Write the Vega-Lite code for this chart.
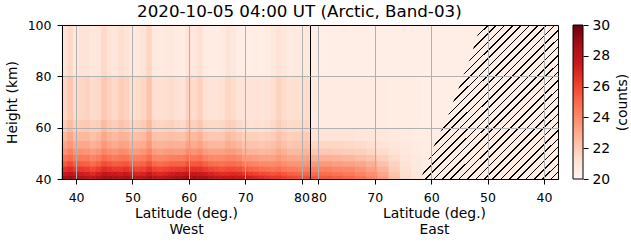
{
"$schema":"https://vega.github.io/schema/vega-lite/v6.json",
"background":"white",
"padding":{"left":5,"top":4,"right":0,"bottom":0},
"title":{"text":"2020-10-05 04:00 UT (Arctic, Band-03)","font":"DejaVu Sans","fontSize":16.7,"fontWeight":"normal","color":"black","anchor":"middle","offset":-3,"dx":-18},
"datasets":{
"west":[
{"lat":37.5,"lat2":38.5,"h":40,"h2":41.5,"v":28.6},{"lat":37.5,"lat2":38.5,"h":41.5,"h2":43,"v":27.6},{"lat":37.5,"lat2":38.5,"h":43,"h2":45,"v":26.6},{"lat":37.5,"lat2":38.5,"h":45,"h2":47,"v":25.5},{"lat":37.5,"lat2":38.5,"h":47,"h2":49.5,"v":24.7},{"lat":37.5,"lat2":38.5,"h":49.5,"h2":52,"v":23.8},{"lat":37.5,"lat2":38.5,"h":52,"h2":55,"v":23.2},{"lat":37.5,"lat2":38.5,"h":55,"h2":58.5,"v":22.6},{"lat":37.5,"lat2":38.5,"h":58.5,"h2":63,"v":22.0},{"lat":37.5,"lat2":38.5,"h":63,"h2":80,"v":21.6},{"lat":37.5,"lat2":38.5,"h":80,"h2":100,"v":21.0},
{"lat":38.5,"lat2":39.5,"h":40,"h2":41.5,"v":28.8},{"lat":38.5,"lat2":39.5,"h":41.5,"h2":43,"v":27.9},{"lat":38.5,"lat2":39.5,"h":43,"h2":45,"v":26.9},{"lat":38.5,"lat2":39.5,"h":45,"h2":47,"v":25.9},{"lat":38.5,"lat2":39.5,"h":47,"h2":49.5,"v":25.0},{"lat":38.5,"lat2":39.5,"h":49.5,"h2":52,"v":24.3},{"lat":38.5,"lat2":39.5,"h":52,"h2":55,"v":23.6},{"lat":38.5,"lat2":39.5,"h":55,"h2":58.5,"v":23.1},{"lat":38.5,"lat2":39.5,"h":58.5,"h2":63,"v":22.5},{"lat":38.5,"lat2":39.5,"h":63,"h2":80,"v":22.1},{"lat":38.5,"lat2":39.5,"h":80,"h2":100,"v":21.5},
{"lat":39.5,"lat2":40.5,"h":40,"h2":41.5,"v":28.5},{"lat":39.5,"lat2":40.5,"h":41.5,"h2":43,"v":27.5},{"lat":39.5,"lat2":40.5,"h":43,"h2":45,"v":26.4},{"lat":39.5,"lat2":40.5,"h":45,"h2":47,"v":25.4},{"lat":39.5,"lat2":40.5,"h":47,"h2":49.5,"v":24.5},{"lat":39.5,"lat2":40.5,"h":49.5,"h2":52,"v":23.7},{"lat":39.5,"lat2":40.5,"h":52,"h2":55,"v":23.0},{"lat":39.5,"lat2":40.5,"h":55,"h2":58.5,"v":22.4},{"lat":39.5,"lat2":40.5,"h":58.5,"h2":63,"v":21.8},{"lat":39.5,"lat2":40.5,"h":63,"h2":80,"v":21.4},{"lat":39.5,"lat2":40.5,"h":80,"h2":100,"v":20.8},
{"lat":40.5,"lat2":41.5,"h":40,"h2":41.5,"v":28.3},{"lat":40.5,"lat2":41.5,"h":41.5,"h2":43,"v":27.4},{"lat":40.5,"lat2":41.5,"h":43,"h2":45,"v":26.4},{"lat":40.5,"lat2":41.5,"h":45,"h2":47,"v":25.4},{"lat":40.5,"lat2":41.5,"h":47,"h2":49.5,"v":24.5},{"lat":40.5,"lat2":41.5,"h":49.5,"h2":52,"v":23.8},{"lat":40.5,"lat2":41.5,"h":52,"h2":55,"v":23.1},{"lat":40.5,"lat2":41.5,"h":55,"h2":58.5,"v":22.6},{"lat":40.5,"lat2":41.5,"h":58.5,"h2":63,"v":22.0},{"lat":40.5,"lat2":41.5,"h":63,"h2":80,"v":21.6},{"lat":40.5,"lat2":41.5,"h":80,"h2":100,"v":21.0},
{"lat":41.5,"lat2":42.5,"h":40,"h2":41.5,"v":28.0},{"lat":41.5,"lat2":42.5,"h":41.5,"h2":43,"v":27.2},{"lat":41.5,"lat2":42.5,"h":43,"h2":45,"v":26.2},{"lat":41.5,"lat2":42.5,"h":45,"h2":47,"v":25.3},{"lat":41.5,"lat2":42.5,"h":47,"h2":49.5,"v":24.5},{"lat":41.5,"lat2":42.5,"h":49.5,"h2":52,"v":23.7},{"lat":41.5,"lat2":42.5,"h":52,"h2":55,"v":23.1},{"lat":41.5,"lat2":42.5,"h":55,"h2":58.5,"v":22.6},{"lat":41.5,"lat2":42.5,"h":58.5,"h2":63,"v":22.1},{"lat":41.5,"lat2":42.5,"h":63,"h2":80,"v":21.7},{"lat":41.5,"lat2":42.5,"h":80,"h2":100,"v":21.1},
{"lat":42.5,"lat2":43.5,"h":40,"h2":41.5,"v":27.8},{"lat":42.5,"lat2":43.5,"h":41.5,"h2":43,"v":26.9},{"lat":42.5,"lat2":43.5,"h":43,"h2":45,"v":25.9},{"lat":42.5,"lat2":43.5,"h":45,"h2":47,"v":25.0},{"lat":42.5,"lat2":43.5,"h":47,"h2":49.5,"v":24.2},{"lat":42.5,"lat2":43.5,"h":49.5,"h2":52,"v":23.5},{"lat":42.5,"lat2":43.5,"h":52,"h2":55,"v":22.8},{"lat":42.5,"lat2":43.5,"h":55,"h2":58.5,"v":22.3},{"lat":42.5,"lat2":43.5,"h":58.5,"h2":63,"v":21.8},{"lat":42.5,"lat2":43.5,"h":63,"h2":80,"v":21.4},{"lat":42.5,"lat2":43.5,"h":80,"h2":100,"v":20.8},
{"lat":43.5,"lat2":44.5,"h":40,"h2":41.5,"v":28.2},{"lat":43.5,"lat2":44.5,"h":41.5,"h2":43,"v":27.3},{"lat":43.5,"lat2":44.5,"h":43,"h2":45,"v":26.3},{"lat":43.5,"lat2":44.5,"h":45,"h2":47,"v":25.3},{"lat":43.5,"lat2":44.5,"h":47,"h2":49.5,"v":24.4},{"lat":43.5,"lat2":44.5,"h":49.5,"h2":52,"v":23.7},{"lat":43.5,"lat2":44.5,"h":52,"h2":55,"v":23.0},{"lat":43.5,"lat2":44.5,"h":55,"h2":58.5,"v":22.5},{"lat":43.5,"lat2":44.5,"h":58.5,"h2":63,"v":21.9},{"lat":43.5,"lat2":44.5,"h":63,"h2":80,"v":21.5},{"lat":43.5,"lat2":44.5,"h":80,"h2":100,"v":20.9},
{"lat":44.5,"lat2":45.5,"h":40,"h2":41.5,"v":28.7},{"lat":44.5,"lat2":45.5,"h":41.5,"h2":43,"v":27.8},{"lat":44.5,"lat2":45.5,"h":43,"h2":45,"v":26.8},{"lat":44.5,"lat2":45.5,"h":45,"h2":47,"v":25.8},{"lat":44.5,"lat2":45.5,"h":47,"h2":49.5,"v":25.0},{"lat":44.5,"lat2":45.5,"h":49.5,"h2":52,"v":24.2},{"lat":44.5,"lat2":45.5,"h":52,"h2":55,"v":23.6},{"lat":44.5,"lat2":45.5,"h":55,"h2":58.5,"v":23.1},{"lat":44.5,"lat2":45.5,"h":58.5,"h2":63,"v":22.5},{"lat":44.5,"lat2":45.5,"h":63,"h2":80,"v":22.1},{"lat":44.5,"lat2":45.5,"h":80,"h2":100,"v":21.5},
{"lat":45.5,"lat2":46.5,"h":40,"h2":41.5,"v":28.6},{"lat":45.5,"lat2":46.5,"h":41.5,"h2":43,"v":27.7},{"lat":45.5,"lat2":46.5,"h":43,"h2":45,"v":26.6},{"lat":45.5,"lat2":46.5,"h":45,"h2":47,"v":25.6},{"lat":45.5,"lat2":46.5,"h":47,"h2":49.5,"v":24.7},{"lat":45.5,"lat2":46.5,"h":49.5,"h2":52,"v":23.9},{"lat":45.5,"lat2":46.5,"h":52,"h2":55,"v":23.2},{"lat":45.5,"lat2":46.5,"h":55,"h2":58.5,"v":22.7},{"lat":45.5,"lat2":46.5,"h":58.5,"h2":63,"v":22.1},{"lat":45.5,"lat2":46.5,"h":63,"h2":80,"v":21.7},{"lat":45.5,"lat2":46.5,"h":80,"h2":100,"v":21.1},
{"lat":46.5,"lat2":47.5,"h":40,"h2":41.5,"v":28.4},{"lat":46.5,"lat2":47.5,"h":41.5,"h2":43,"v":27.5},{"lat":46.5,"lat2":47.5,"h":43,"h2":45,"v":26.4},{"lat":46.5,"lat2":47.5,"h":45,"h2":47,"v":25.4},{"lat":46.5,"lat2":47.5,"h":47,"h2":49.5,"v":24.5},{"lat":46.5,"lat2":47.5,"h":49.5,"h2":52,"v":23.7},{"lat":46.5,"lat2":47.5,"h":52,"h2":55,"v":23.0},{"lat":46.5,"lat2":47.5,"h":55,"h2":58.5,"v":22.5},{"lat":46.5,"lat2":47.5,"h":58.5,"h2":63,"v":21.9},{"lat":46.5,"lat2":47.5,"h":63,"h2":80,"v":21.5},{"lat":46.5,"lat2":47.5,"h":80,"h2":100,"v":20.9},
{"lat":47.5,"lat2":48.5,"h":40,"h2":41.5,"v":28.3},{"lat":47.5,"lat2":48.5,"h":41.5,"h2":43,"v":27.4},{"lat":47.5,"lat2":48.5,"h":43,"h2":45,"v":26.4},{"lat":47.5,"lat2":48.5,"h":45,"h2":47,"v":25.5},{"lat":47.5,"lat2":48.5,"h":47,"h2":49.5,"v":24.7},{"lat":47.5,"lat2":48.5,"h":49.5,"h2":52,"v":24.0},{"lat":47.5,"lat2":48.5,"h":52,"h2":55,"v":23.3},{"lat":47.5,"lat2":48.5,"h":55,"h2":58.5,"v":22.8},{"lat":47.5,"lat2":48.5,"h":58.5,"h2":63,"v":22.3},{"lat":47.5,"lat2":48.5,"h":63,"h2":80,"v":21.9},{"lat":47.5,"lat2":48.5,"h":80,"h2":100,"v":21.3},
{"lat":48.5,"lat2":49.5,"h":40,"h2":41.5,"v":28.6},{"lat":48.5,"lat2":49.5,"h":41.5,"h2":43,"v":27.7},{"lat":48.5,"lat2":49.5,"h":43,"h2":45,"v":26.6},{"lat":48.5,"lat2":49.5,"h":45,"h2":47,"v":25.6},{"lat":48.5,"lat2":49.5,"h":47,"h2":49.5,"v":24.7},{"lat":48.5,"lat2":49.5,"h":49.5,"h2":52,"v":23.9},{"lat":48.5,"lat2":49.5,"h":52,"h2":55,"v":23.2},{"lat":48.5,"lat2":49.5,"h":55,"h2":58.5,"v":22.7},{"lat":48.5,"lat2":49.5,"h":58.5,"h2":63,"v":22.1},{"lat":48.5,"lat2":49.5,"h":63,"h2":80,"v":21.7},{"lat":48.5,"lat2":49.5,"h":80,"h2":100,"v":21.1},
{"lat":49.5,"lat2":50.5,"h":40,"h2":41.5,"v":28.2},{"lat":49.5,"lat2":50.5,"h":41.5,"h2":43,"v":27.3},{"lat":49.5,"lat2":50.5,"h":43,"h2":45,"v":26.2},{"lat":49.5,"lat2":50.5,"h":45,"h2":47,"v":25.2},{"lat":49.5,"lat2":50.5,"h":47,"h2":49.5,"v":24.3},{"lat":49.5,"lat2":50.5,"h":49.5,"h2":52,"v":23.5},{"lat":49.5,"lat2":50.5,"h":52,"h2":55,"v":22.8},{"lat":49.5,"lat2":50.5,"h":55,"h2":58.5,"v":22.3},{"lat":49.5,"lat2":50.5,"h":58.5,"h2":63,"v":21.7},{"lat":49.5,"lat2":50.5,"h":63,"h2":80,"v":21.3},{"lat":49.5,"lat2":50.5,"h":80,"h2":100,"v":20.7},
{"lat":50.5,"lat2":51.5,"h":40,"h2":41.5,"v":27.9},{"lat":50.5,"lat2":51.5,"h":41.5,"h2":43,"v":27.0},{"lat":50.5,"lat2":51.5,"h":43,"h2":45,"v":26.0},{"lat":50.5,"lat2":51.5,"h":45,"h2":47,"v":25.1},{"lat":50.5,"lat2":51.5,"h":47,"h2":49.5,"v":24.3},{"lat":50.5,"lat2":51.5,"h":49.5,"h2":52,"v":23.5},{"lat":50.5,"lat2":51.5,"h":52,"h2":55,"v":22.9},{"lat":50.5,"lat2":51.5,"h":55,"h2":58.5,"v":22.4},{"lat":50.5,"lat2":51.5,"h":58.5,"h2":63,"v":21.8},{"lat":50.5,"lat2":51.5,"h":63,"h2":80,"v":21.4},{"lat":50.5,"lat2":51.5,"h":80,"h2":100,"v":20.8},
{"lat":51.5,"lat2":52.5,"h":40,"h2":41.5,"v":28.0},{"lat":51.5,"lat2":52.5,"h":41.5,"h2":43,"v":27.1},{"lat":51.5,"lat2":52.5,"h":43,"h2":45,"v":26.1},{"lat":51.5,"lat2":52.5,"h":45,"h2":47,"v":25.2},{"lat":51.5,"lat2":52.5,"h":47,"h2":49.5,"v":24.4},{"lat":51.5,"lat2":52.5,"h":49.5,"h2":52,"v":23.7},{"lat":51.5,"lat2":52.5,"h":52,"h2":55,"v":23.0},{"lat":51.5,"lat2":52.5,"h":55,"h2":58.5,"v":22.5},{"lat":51.5,"lat2":52.5,"h":58.5,"h2":63,"v":22.0},{"lat":51.5,"lat2":52.5,"h":63,"h2":80,"v":21.6},{"lat":51.5,"lat2":52.5,"h":80,"h2":100,"v":21.0},
{"lat":52.5,"lat2":53.5,"h":40,"h2":41.5,"v":28.4},{"lat":52.5,"lat2":53.5,"h":41.5,"h2":43,"v":27.6},{"lat":52.5,"lat2":53.5,"h":43,"h2":45,"v":26.6},{"lat":52.5,"lat2":53.5,"h":45,"h2":47,"v":25.7},{"lat":52.5,"lat2":53.5,"h":47,"h2":49.5,"v":24.9},{"lat":52.5,"lat2":53.5,"h":49.5,"h2":52,"v":24.2},{"lat":52.5,"lat2":53.5,"h":52,"h2":55,"v":23.6},{"lat":52.5,"lat2":53.5,"h":55,"h2":58.5,"v":23.1},{"lat":52.5,"lat2":53.5,"h":58.5,"h2":63,"v":22.6},{"lat":52.5,"lat2":53.5,"h":63,"h2":80,"v":22.2},{"lat":52.5,"lat2":53.5,"h":80,"h2":100,"v":21.6},
{"lat":53.5,"lat2":54.5,"h":40,"h2":41.5,"v":28.0},{"lat":53.5,"lat2":54.5,"h":41.5,"h2":43,"v":27.1},{"lat":53.5,"lat2":54.5,"h":43,"h2":45,"v":26.1},{"lat":53.5,"lat2":54.5,"h":45,"h2":47,"v":25.1},{"lat":53.5,"lat2":54.5,"h":47,"h2":49.5,"v":24.2},{"lat":53.5,"lat2":54.5,"h":49.5,"h2":52,"v":23.5},{"lat":53.5,"lat2":54.5,"h":52,"h2":55,"v":22.8},{"lat":53.5,"lat2":54.5,"h":55,"h2":58.5,"v":22.3},{"lat":53.5,"lat2":54.5,"h":58.5,"h2":63,"v":21.7},{"lat":53.5,"lat2":54.5,"h":63,"h2":80,"v":21.3},{"lat":53.5,"lat2":54.5,"h":80,"h2":100,"v":20.7},
{"lat":54.5,"lat2":55.5,"h":40,"h2":41.5,"v":27.8},{"lat":54.5,"lat2":55.5,"h":41.5,"h2":43,"v":26.9},{"lat":54.5,"lat2":55.5,"h":43,"h2":45,"v":25.9},{"lat":54.5,"lat2":55.5,"h":45,"h2":47,"v":24.9},{"lat":54.5,"lat2":55.5,"h":47,"h2":49.5,"v":24.1},{"lat":54.5,"lat2":55.5,"h":49.5,"h2":52,"v":23.3},{"lat":54.5,"lat2":55.5,"h":52,"h2":55,"v":22.7},{"lat":54.5,"lat2":55.5,"h":55,"h2":58.5,"v":22.2},{"lat":54.5,"lat2":55.5,"h":58.5,"h2":63,"v":21.6},{"lat":54.5,"lat2":55.5,"h":63,"h2":80,"v":21.2},{"lat":54.5,"lat2":55.5,"h":80,"h2":100,"v":20.6},
{"lat":55.5,"lat2":56.5,"h":40,"h2":41.5,"v":28.0},{"lat":55.5,"lat2":56.5,"h":41.5,"h2":43,"v":27.1},{"lat":55.5,"lat2":56.5,"h":43,"h2":45,"v":26.1},{"lat":55.5,"lat2":56.5,"h":45,"h2":47,"v":25.1},{"lat":55.5,"lat2":56.5,"h":47,"h2":49.5,"v":24.2},{"lat":55.5,"lat2":56.5,"h":49.5,"h2":52,"v":23.5},{"lat":55.5,"lat2":56.5,"h":52,"h2":55,"v":22.8},{"lat":55.5,"lat2":56.5,"h":55,"h2":58.5,"v":22.3},{"lat":55.5,"lat2":56.5,"h":58.5,"h2":63,"v":21.7},{"lat":55.5,"lat2":56.5,"h":63,"h2":80,"v":21.3},{"lat":55.5,"lat2":56.5,"h":80,"h2":100,"v":20.7},
{"lat":56.5,"lat2":57.5,"h":40,"h2":41.5,"v":28.3},{"lat":56.5,"lat2":57.5,"h":41.5,"h2":43,"v":27.4},{"lat":56.5,"lat2":57.5,"h":43,"h2":45,"v":26.3},{"lat":56.5,"lat2":57.5,"h":45,"h2":47,"v":25.3},{"lat":56.5,"lat2":57.5,"h":47,"h2":49.5,"v":24.4},{"lat":56.5,"lat2":57.5,"h":49.5,"h2":52,"v":23.6},{"lat":56.5,"lat2":57.5,"h":52,"h2":55,"v":22.9},{"lat":56.5,"lat2":57.5,"h":55,"h2":58.5,"v":22.4},{"lat":56.5,"lat2":57.5,"h":58.5,"h2":63,"v":21.8},{"lat":56.5,"lat2":57.5,"h":63,"h2":80,"v":21.4},{"lat":56.5,"lat2":57.5,"h":80,"h2":100,"v":20.8},
{"lat":57.5,"lat2":58.5,"h":40,"h2":41.5,"v":28.5},{"lat":57.5,"lat2":58.5,"h":41.5,"h2":43,"v":27.5},{"lat":57.5,"lat2":58.5,"h":43,"h2":45,"v":26.4},{"lat":57.5,"lat2":58.5,"h":45,"h2":47,"v":25.3},{"lat":57.5,"lat2":58.5,"h":47,"h2":49.5,"v":24.4},{"lat":57.5,"lat2":58.5,"h":49.5,"h2":52,"v":23.5},{"lat":57.5,"lat2":58.5,"h":52,"h2":55,"v":22.8},{"lat":57.5,"lat2":58.5,"h":55,"h2":58.5,"v":22.3},{"lat":57.5,"lat2":58.5,"h":58.5,"h2":63,"v":21.6},{"lat":57.5,"lat2":58.5,"h":63,"h2":80,"v":21.2},{"lat":57.5,"lat2":58.5,"h":80,"h2":100,"v":20.6},
{"lat":58.5,"lat2":59.5,"h":40,"h2":41.5,"v":28.6},{"lat":58.5,"lat2":59.5,"h":41.5,"h2":43,"v":27.6},{"lat":58.5,"lat2":59.5,"h":43,"h2":45,"v":26.4},{"lat":58.5,"lat2":59.5,"h":45,"h2":47,"v":25.3},{"lat":58.5,"lat2":59.5,"h":47,"h2":49.5,"v":24.4},{"lat":58.5,"lat2":59.5,"h":49.5,"h2":52,"v":23.5},{"lat":58.5,"lat2":59.5,"h":52,"h2":55,"v":22.8},{"lat":58.5,"lat2":59.5,"h":55,"h2":58.5,"v":22.2},{"lat":58.5,"lat2":59.5,"h":58.5,"h2":63,"v":21.5},{"lat":58.5,"lat2":59.5,"h":63,"h2":80,"v":21.1},{"lat":58.5,"lat2":59.5,"h":80,"h2":100,"v":20.5},
{"lat":59.5,"lat2":60.5,"h":40,"h2":41.5,"v":28.8},{"lat":59.5,"lat2":60.5,"h":41.5,"h2":43,"v":27.8},{"lat":59.5,"lat2":60.5,"h":43,"h2":45,"v":26.7},{"lat":59.5,"lat2":60.5,"h":45,"h2":47,"v":25.7},{"lat":59.5,"lat2":60.5,"h":47,"h2":49.5,"v":24.8},{"lat":59.5,"lat2":60.5,"h":49.5,"h2":52,"v":24.0},{"lat":59.5,"lat2":60.5,"h":52,"h2":55,"v":23.3},{"lat":59.5,"lat2":60.5,"h":55,"h2":58.5,"v":22.7},{"lat":59.5,"lat2":60.5,"h":58.5,"h2":63,"v":22.1},{"lat":59.5,"lat2":60.5,"h":63,"h2":80,"v":21.7},{"lat":59.5,"lat2":60.5,"h":80,"h2":100,"v":21.1},
{"lat":60.5,"lat2":61.5,"h":40,"h2":41.5,"v":28.7},{"lat":60.5,"lat2":61.5,"h":41.5,"h2":43,"v":27.7},{"lat":60.5,"lat2":61.5,"h":43,"h2":45,"v":26.6},{"lat":60.5,"lat2":61.5,"h":45,"h2":47,"v":25.5},{"lat":60.5,"lat2":61.5,"h":47,"h2":49.5,"v":24.6},{"lat":60.5,"lat2":61.5,"h":49.5,"h2":52,"v":23.7},{"lat":60.5,"lat2":61.5,"h":52,"h2":55,"v":23.0},{"lat":60.5,"lat2":61.5,"h":55,"h2":58.5,"v":22.5},{"lat":60.5,"lat2":61.5,"h":58.5,"h2":63,"v":21.8},{"lat":60.5,"lat2":61.5,"h":63,"h2":80,"v":21.4},{"lat":60.5,"lat2":61.5,"h":80,"h2":100,"v":20.8},
{"lat":61.5,"lat2":62.5,"h":40,"h2":41.5,"v":28.6},{"lat":61.5,"lat2":62.5,"h":41.5,"h2":43,"v":27.7},{"lat":61.5,"lat2":62.5,"h":43,"h2":45,"v":26.6},{"lat":61.5,"lat2":62.5,"h":45,"h2":47,"v":25.6},{"lat":61.5,"lat2":62.5,"h":47,"h2":49.5,"v":24.8},{"lat":61.5,"lat2":62.5,"h":49.5,"h2":52,"v":24.0},{"lat":61.5,"lat2":62.5,"h":52,"h2":55,"v":23.3},{"lat":61.5,"lat2":62.5,"h":55,"h2":58.5,"v":22.8},{"lat":61.5,"lat2":62.5,"h":58.5,"h2":63,"v":22.2},{"lat":61.5,"lat2":62.5,"h":63,"h2":80,"v":21.8},{"lat":61.5,"lat2":62.5,"h":80,"h2":100,"v":21.2},
{"lat":62.5,"lat2":63.5,"h":40,"h2":41.5,"v":28.4},{"lat":62.5,"lat2":63.5,"h":41.5,"h2":43,"v":27.4},{"lat":62.5,"lat2":63.5,"h":43,"h2":45,"v":26.3},{"lat":62.5,"lat2":63.5,"h":45,"h2":47,"v":25.3},{"lat":62.5,"lat2":63.5,"h":47,"h2":49.5,"v":24.3},{"lat":62.5,"lat2":63.5,"h":49.5,"h2":52,"v":23.5},{"lat":62.5,"lat2":63.5,"h":52,"h2":55,"v":22.8},{"lat":62.5,"lat2":63.5,"h":55,"h2":58.5,"v":22.2},{"lat":62.5,"lat2":63.5,"h":58.5,"h2":63,"v":21.6},{"lat":62.5,"lat2":63.5,"h":63,"h2":80,"v":21.2},{"lat":62.5,"lat2":63.5,"h":80,"h2":100,"v":20.6},
{"lat":63.5,"lat2":64.5,"h":40,"h2":41.5,"v":28.0},{"lat":63.5,"lat2":64.5,"h":41.5,"h2":43,"v":27.1},{"lat":63.5,"lat2":64.5,"h":43,"h2":45,"v":26.0},{"lat":63.5,"lat2":64.5,"h":45,"h2":47,"v":25.0},{"lat":63.5,"lat2":64.5,"h":47,"h2":49.5,"v":24.1},{"lat":63.5,"lat2":64.5,"h":49.5,"h2":52,"v":23.3},{"lat":63.5,"lat2":64.5,"h":52,"h2":55,"v":22.6},{"lat":63.5,"lat2":64.5,"h":55,"h2":58.5,"v":22.1},{"lat":63.5,"lat2":64.5,"h":58.5,"h2":63,"v":21.5},{"lat":63.5,"lat2":64.5,"h":63,"h2":80,"v":21.1},{"lat":63.5,"lat2":64.5,"h":80,"h2":100,"v":20.5},
{"lat":64.5,"lat2":65.5,"h":40,"h2":41.5,"v":27.8},{"lat":64.5,"lat2":65.5,"h":41.5,"h2":43,"v":26.9},{"lat":64.5,"lat2":65.5,"h":43,"h2":45,"v":25.9},{"lat":64.5,"lat2":65.5,"h":45,"h2":47,"v":24.9},{"lat":64.5,"lat2":65.5,"h":47,"h2":49.5,"v":24.0},{"lat":64.5,"lat2":65.5,"h":49.5,"h2":52,"v":23.3},{"lat":64.5,"lat2":65.5,"h":52,"h2":55,"v":22.6},{"lat":64.5,"lat2":65.5,"h":55,"h2":58.5,"v":22.1},{"lat":64.5,"lat2":65.5,"h":58.5,"h2":63,"v":21.5},{"lat":64.5,"lat2":65.5,"h":63,"h2":80,"v":21.1},{"lat":64.5,"lat2":65.5,"h":80,"h2":100,"v":20.5},
{"lat":65.5,"lat2":66.5,"h":40,"h2":41.5,"v":27.6},{"lat":65.5,"lat2":66.5,"h":41.5,"h2":43,"v":26.7},{"lat":65.5,"lat2":66.5,"h":43,"h2":45,"v":25.7},{"lat":65.5,"lat2":66.5,"h":45,"h2":47,"v":24.8},{"lat":65.5,"lat2":66.5,"h":47,"h2":49.5,"v":24.0},{"lat":65.5,"lat2":66.5,"h":49.5,"h2":52,"v":23.3},{"lat":65.5,"lat2":66.5,"h":52,"h2":55,"v":22.6},{"lat":65.5,"lat2":66.5,"h":55,"h2":58.5,"v":22.1},{"lat":65.5,"lat2":66.5,"h":58.5,"h2":63,"v":21.6},{"lat":65.5,"lat2":66.5,"h":63,"h2":80,"v":21.2},{"lat":65.5,"lat2":66.5,"h":80,"h2":100,"v":20.6},
{"lat":66.5,"lat2":67.5,"h":40,"h2":41.5,"v":27.6},{"lat":66.5,"lat2":67.5,"h":41.5,"h2":43,"v":26.8},{"lat":66.5,"lat2":67.5,"h":43,"h2":45,"v":25.9},{"lat":66.5,"lat2":67.5,"h":45,"h2":47,"v":25.0},{"lat":66.5,"lat2":67.5,"h":47,"h2":49.5,"v":24.2},{"lat":66.5,"lat2":67.5,"h":49.5,"h2":52,"v":23.5},{"lat":66.5,"lat2":67.5,"h":52,"h2":55,"v":23.0},{"lat":66.5,"lat2":67.5,"h":55,"h2":58.5,"v":22.5},{"lat":66.5,"lat2":67.5,"h":58.5,"h2":63,"v":21.9},{"lat":66.5,"lat2":67.5,"h":63,"h2":80,"v":21.6},{"lat":66.5,"lat2":67.5,"h":80,"h2":100,"v":21.0},
{"lat":67.5,"lat2":68.5,"h":40,"h2":41.5,"v":27.8},{"lat":67.5,"lat2":68.5,"h":41.5,"h2":43,"v":26.9},{"lat":67.5,"lat2":68.5,"h":43,"h2":45,"v":25.9},{"lat":67.5,"lat2":68.5,"h":45,"h2":47,"v":25.0},{"lat":67.5,"lat2":68.5,"h":47,"h2":49.5,"v":24.2},{"lat":67.5,"lat2":68.5,"h":49.5,"h2":52,"v":23.5},{"lat":67.5,"lat2":68.5,"h":52,"h2":55,"v":22.8},{"lat":67.5,"lat2":68.5,"h":55,"h2":58.5,"v":22.3},{"lat":67.5,"lat2":68.5,"h":58.5,"h2":63,"v":21.8},{"lat":67.5,"lat2":68.5,"h":63,"h2":80,"v":21.4},{"lat":67.5,"lat2":68.5,"h":80,"h2":100,"v":20.8},
{"lat":68.5,"lat2":69.5,"h":40,"h2":41.5,"v":27.7},{"lat":68.5,"lat2":69.5,"h":41.5,"h2":43,"v":26.8},{"lat":68.5,"lat2":69.5,"h":43,"h2":45,"v":25.8},{"lat":68.5,"lat2":69.5,"h":45,"h2":47,"v":24.8},{"lat":68.5,"lat2":69.5,"h":47,"h2":49.5,"v":24.0},{"lat":68.5,"lat2":69.5,"h":49.5,"h2":52,"v":23.2},{"lat":68.5,"lat2":69.5,"h":52,"h2":55,"v":22.6},{"lat":68.5,"lat2":69.5,"h":55,"h2":58.5,"v":22.1},{"lat":68.5,"lat2":69.5,"h":58.5,"h2":63,"v":21.5},{"lat":68.5,"lat2":69.5,"h":63,"h2":80,"v":21.1},{"lat":68.5,"lat2":69.5,"h":80,"h2":100,"v":20.5},
{"lat":69.5,"lat2":70.5,"h":40,"h2":41.5,"v":27.5},{"lat":69.5,"lat2":70.5,"h":41.5,"h2":43,"v":26.5},{"lat":69.5,"lat2":70.5,"h":43,"h2":45,"v":25.4},{"lat":69.5,"lat2":70.5,"h":45,"h2":47,"v":24.4},{"lat":69.5,"lat2":70.5,"h":47,"h2":49.5,"v":23.5},{"lat":69.5,"lat2":70.5,"h":49.5,"h2":52,"v":22.8},{"lat":69.5,"lat2":70.5,"h":52,"h2":55,"v":22.2},{"lat":69.5,"lat2":70.5,"h":55,"h2":58.5,"v":21.8},{"lat":69.5,"lat2":70.5,"h":58.5,"h2":63,"v":21.3},{"lat":69.5,"lat2":70.5,"h":63,"h2":80,"v":21.0},{"lat":69.5,"lat2":70.5,"h":80,"h2":100,"v":20.4},
{"lat":70.5,"lat2":71.5,"h":40,"h2":41.5,"v":27.3},{"lat":70.5,"lat2":71.5,"h":41.5,"h2":43,"v":26.3},{"lat":70.5,"lat2":71.5,"h":43,"h2":45,"v":25.2},{"lat":70.5,"lat2":71.5,"h":45,"h2":47,"v":24.3},{"lat":70.5,"lat2":71.5,"h":47,"h2":49.5,"v":23.5},{"lat":70.5,"lat2":71.5,"h":49.5,"h2":52,"v":22.7},{"lat":70.5,"lat2":71.5,"h":52,"h2":55,"v":22.2},{"lat":70.5,"lat2":71.5,"h":55,"h2":58.5,"v":21.8},{"lat":70.5,"lat2":71.5,"h":58.5,"h2":63,"v":21.2},{"lat":70.5,"lat2":71.5,"h":63,"h2":80,"v":21.0},{"lat":70.5,"lat2":71.5,"h":80,"h2":100,"v":20.4},
{"lat":71.5,"lat2":72.5,"h":40,"h2":41.5,"v":27.0},{"lat":71.5,"lat2":72.5,"h":41.5,"h2":43,"v":26.1},{"lat":71.5,"lat2":72.5,"h":43,"h2":45,"v":25.1},{"lat":71.5,"lat2":72.5,"h":45,"h2":47,"v":24.2},{"lat":71.5,"lat2":72.5,"h":47,"h2":49.5,"v":23.4},{"lat":71.5,"lat2":72.5,"h":49.5,"h2":52,"v":22.7},{"lat":71.5,"lat2":72.5,"h":52,"h2":55,"v":22.2},{"lat":71.5,"lat2":72.5,"h":55,"h2":58.5,"v":21.8},{"lat":71.5,"lat2":72.5,"h":58.5,"h2":63,"v":21.3},{"lat":71.5,"lat2":72.5,"h":63,"h2":80,"v":21.1},{"lat":71.5,"lat2":72.5,"h":80,"h2":100,"v":20.5},
{"lat":72.5,"lat2":73.5,"h":40,"h2":41.5,"v":26.8},{"lat":72.5,"lat2":73.5,"h":41.5,"h2":43,"v":25.9},{"lat":72.5,"lat2":73.5,"h":43,"h2":45,"v":24.9},{"lat":72.5,"lat2":73.5,"h":45,"h2":47,"v":24.0},{"lat":72.5,"lat2":73.5,"h":47,"h2":49.5,"v":23.3},{"lat":72.5,"lat2":73.5,"h":49.5,"h2":52,"v":22.6},{"lat":72.5,"lat2":73.5,"h":52,"h2":55,"v":22.1},{"lat":72.5,"lat2":73.5,"h":55,"h2":58.5,"v":21.7},{"lat":72.5,"lat2":73.5,"h":58.5,"h2":63,"v":21.2},{"lat":72.5,"lat2":73.5,"h":63,"h2":80,"v":21.0},{"lat":72.5,"lat2":73.5,"h":80,"h2":100,"v":20.4},
{"lat":73.5,"lat2":74.5,"h":40,"h2":41.5,"v":26.6},{"lat":73.5,"lat2":74.5,"h":41.5,"h2":43,"v":25.8},{"lat":73.5,"lat2":74.5,"h":43,"h2":45,"v":24.8},{"lat":73.5,"lat2":74.5,"h":45,"h2":47,"v":24.0},{"lat":73.5,"lat2":74.5,"h":47,"h2":49.5,"v":23.3},{"lat":73.5,"lat2":74.5,"h":49.5,"h2":52,"v":22.6},{"lat":73.5,"lat2":74.5,"h":52,"h2":55,"v":22.2},{"lat":73.5,"lat2":74.5,"h":55,"h2":58.5,"v":21.8},{"lat":73.5,"lat2":74.5,"h":58.5,"h2":63,"v":21.3},{"lat":73.5,"lat2":74.5,"h":63,"h2":80,"v":21.1},{"lat":73.5,"lat2":74.5,"h":80,"h2":100,"v":20.5},
{"lat":74.5,"lat2":75.5,"h":40,"h2":41.5,"v":26.4},{"lat":74.5,"lat2":75.5,"h":41.5,"h2":43,"v":25.6},{"lat":74.5,"lat2":75.5,"h":43,"h2":45,"v":24.7},{"lat":74.5,"lat2":75.5,"h":45,"h2":47,"v":24.0},{"lat":74.5,"lat2":75.5,"h":47,"h2":49.5,"v":23.3},{"lat":74.5,"lat2":75.5,"h":49.5,"h2":52,"v":22.7},{"lat":74.5,"lat2":75.5,"h":52,"h2":55,"v":22.3},{"lat":74.5,"lat2":75.5,"h":55,"h2":58.5,"v":21.9},{"lat":74.5,"lat2":75.5,"h":58.5,"h2":63,"v":21.5},{"lat":74.5,"lat2":75.5,"h":63,"h2":80,"v":21.3},{"lat":74.5,"lat2":75.5,"h":80,"h2":100,"v":20.7},
{"lat":75.5,"lat2":76.5,"h":40,"h2":41.5,"v":26.5},{"lat":75.5,"lat2":76.5,"h":41.5,"h2":43,"v":25.8},{"lat":75.5,"lat2":76.5,"h":43,"h2":45,"v":24.9},{"lat":75.5,"lat2":76.5,"h":45,"h2":47,"v":24.2},{"lat":75.5,"lat2":76.5,"h":47,"h2":49.5,"v":23.6},{"lat":75.5,"lat2":76.5,"h":49.5,"h2":52,"v":23.1},{"lat":75.5,"lat2":76.5,"h":52,"h2":55,"v":22.6},{"lat":75.5,"lat2":76.5,"h":55,"h2":58.5,"v":22.3},{"lat":75.5,"lat2":76.5,"h":58.5,"h2":63,"v":21.9},{"lat":75.5,"lat2":76.5,"h":63,"h2":80,"v":21.7},{"lat":75.5,"lat2":76.5,"h":80,"h2":100,"v":21.1},
{"lat":76.5,"lat2":77.5,"h":40,"h2":41.5,"v":26.2},{"lat":76.5,"lat2":77.5,"h":41.5,"h2":43,"v":25.5},{"lat":76.5,"lat2":77.5,"h":43,"h2":45,"v":24.6},{"lat":76.5,"lat2":77.5,"h":45,"h2":47,"v":23.9},{"lat":76.5,"lat2":77.5,"h":47,"h2":49.5,"v":23.3},{"lat":76.5,"lat2":77.5,"h":49.5,"h2":52,"v":22.8},{"lat":76.5,"lat2":77.5,"h":52,"h2":55,"v":22.3},{"lat":76.5,"lat2":77.5,"h":55,"h2":58.5,"v":22.0},{"lat":76.5,"lat2":77.5,"h":58.5,"h2":63,"v":21.6},{"lat":76.5,"lat2":77.5,"h":63,"h2":80,"v":21.4},{"lat":76.5,"lat2":77.5,"h":80,"h2":100,"v":20.8},
{"lat":77.5,"lat2":78.5,"h":40,"h2":41.5,"v":26.0},{"lat":77.5,"lat2":78.5,"h":41.5,"h2":43,"v":25.3},{"lat":77.5,"lat2":78.5,"h":43,"h2":45,"v":24.4},{"lat":77.5,"lat2":78.5,"h":45,"h2":47,"v":23.7},{"lat":77.5,"lat2":78.5,"h":47,"h2":49.5,"v":23.1},{"lat":77.5,"lat2":78.5,"h":49.5,"h2":52,"v":22.6},{"lat":77.5,"lat2":78.5,"h":52,"h2":55,"v":22.1},{"lat":77.5,"lat2":78.5,"h":55,"h2":58.5,"v":21.8},{"lat":77.5,"lat2":78.5,"h":58.5,"h2":63,"v":21.4},{"lat":77.5,"lat2":78.5,"h":63,"h2":80,"v":21.2},{"lat":77.5,"lat2":78.5,"h":80,"h2":100,"v":20.6},
{"lat":78.5,"lat2":79.5,"h":40,"h2":41.5,"v":25.9},{"lat":78.5,"lat2":79.5,"h":41.5,"h2":43,"v":25.2},{"lat":78.5,"lat2":79.5,"h":43,"h2":45,"v":24.4},{"lat":78.5,"lat2":79.5,"h":45,"h2":47,"v":23.7},{"lat":78.5,"lat2":79.5,"h":47,"h2":49.5,"v":23.1},{"lat":78.5,"lat2":79.5,"h":49.5,"h2":52,"v":22.6},{"lat":78.5,"lat2":79.5,"h":52,"h2":55,"v":22.2},{"lat":78.5,"lat2":79.5,"h":55,"h2":58.5,"v":21.9},{"lat":78.5,"lat2":79.5,"h":58.5,"h2":63,"v":21.5},{"lat":78.5,"lat2":79.5,"h":63,"h2":80,"v":21.3},{"lat":78.5,"lat2":79.5,"h":80,"h2":100,"v":20.7},
{"lat":79.5,"lat2":80.5,"h":40,"h2":41.5,"v":25.8},{"lat":79.5,"lat2":80.5,"h":41.5,"h2":43,"v":25.1},{"lat":79.5,"lat2":80.5,"h":43,"h2":45,"v":24.3},{"lat":79.5,"lat2":80.5,"h":45,"h2":47,"v":23.7},{"lat":79.5,"lat2":80.5,"h":47,"h2":49.5,"v":23.1},{"lat":79.5,"lat2":80.5,"h":49.5,"h2":52,"v":22.6},{"lat":79.5,"lat2":80.5,"h":52,"h2":55,"v":22.2},{"lat":79.5,"lat2":80.5,"h":55,"h2":58.5,"v":21.9},{"lat":79.5,"lat2":80.5,"h":58.5,"h2":63,"v":21.5},{"lat":79.5,"lat2":80.5,"h":63,"h2":80,"v":21.3},{"lat":79.5,"lat2":80.5,"h":80,"h2":100,"v":20.7},
{"lat":80.5,"lat2":81.5,"h":40,"h2":41.5,"v":25.8},{"lat":80.5,"lat2":81.5,"h":41.5,"h2":43,"v":25.1},{"lat":80.5,"lat2":81.5,"h":43,"h2":45,"v":24.4},{"lat":80.5,"lat2":81.5,"h":45,"h2":47,"v":23.7},{"lat":80.5,"lat2":81.5,"h":47,"h2":49.5,"v":23.2},{"lat":80.5,"lat2":81.5,"h":49.5,"h2":52,"v":22.7},{"lat":80.5,"lat2":81.5,"h":52,"h2":55,"v":22.3},{"lat":80.5,"lat2":81.5,"h":55,"h2":58.5,"v":22.0},{"lat":80.5,"lat2":81.5,"h":58.5,"h2":63,"v":21.6},{"lat":80.5,"lat2":81.5,"h":63,"h2":80,"v":21.4},{"lat":80.5,"lat2":81.5,"h":80,"h2":100,"v":20.8}
],
"east":[
{"lat":79.5,"lat2":81.5,"h":40,"h2":41.5,"v":25.6},{"lat":79.5,"lat2":81.5,"h":41.5,"h2":43,"v":25.0},{"lat":79.5,"lat2":81.5,"h":43,"h2":45,"v":24.3},{"lat":79.5,"lat2":81.5,"h":45,"h2":47,"v":23.6},{"lat":79.5,"lat2":81.5,"h":47,"h2":49.5,"v":22.8},{"lat":79.5,"lat2":81.5,"h":49.5,"h2":52,"v":22.1},{"lat":79.5,"lat2":81.5,"h":52,"h2":55,"v":21.6},{"lat":79.5,"lat2":81.5,"h":55,"h2":60,"v":21.0},{"lat":79.5,"lat2":81.5,"h":60,"h2":80,"v":20.6},{"lat":79.5,"lat2":81.5,"h":80,"h2":100,"v":20.4},
{"lat":77.5,"lat2":79.5,"h":40,"h2":41.5,"v":25.5},{"lat":77.5,"lat2":79.5,"h":41.5,"h2":43,"v":24.9},{"lat":77.5,"lat2":79.5,"h":43,"h2":45,"v":24.3},{"lat":77.5,"lat2":79.5,"h":45,"h2":47,"v":23.6},{"lat":77.5,"lat2":79.5,"h":47,"h2":49.5,"v":22.8},{"lat":77.5,"lat2":79.5,"h":49.5,"h2":52,"v":22.1},{"lat":77.5,"lat2":79.5,"h":52,"h2":55,"v":21.6},{"lat":77.5,"lat2":79.5,"h":55,"h2":60,"v":21.0},{"lat":77.5,"lat2":79.5,"h":60,"h2":80,"v":20.6},{"lat":77.5,"lat2":79.5,"h":80,"h2":100,"v":20.4},
{"lat":75.5,"lat2":77.5,"h":40,"h2":41.5,"v":25.3},{"lat":75.5,"lat2":77.5,"h":41.5,"h2":43,"v":24.7},{"lat":75.5,"lat2":77.5,"h":43,"h2":45,"v":24.1},{"lat":75.5,"lat2":77.5,"h":45,"h2":47,"v":23.4},{"lat":75.5,"lat2":77.5,"h":47,"h2":49.5,"v":22.7},{"lat":75.5,"lat2":77.5,"h":49.5,"h2":52,"v":22.0},{"lat":75.5,"lat2":77.5,"h":52,"h2":55,"v":21.6},{"lat":75.5,"lat2":77.5,"h":55,"h2":60,"v":21.0},{"lat":75.5,"lat2":77.5,"h":60,"h2":80,"v":20.6},{"lat":75.5,"lat2":77.5,"h":80,"h2":100,"v":20.4},
{"lat":73.5,"lat2":75.5,"h":40,"h2":41.5,"v":25.1},{"lat":73.5,"lat2":75.5,"h":41.5,"h2":43,"v":24.5},{"lat":73.5,"lat2":75.5,"h":43,"h2":45,"v":24.0},{"lat":73.5,"lat2":75.5,"h":45,"h2":47,"v":23.3},{"lat":73.5,"lat2":75.5,"h":47,"h2":49.5,"v":22.6},{"lat":73.5,"lat2":75.5,"h":49.5,"h2":52,"v":21.9},{"lat":73.5,"lat2":75.5,"h":52,"h2":55,"v":21.5},{"lat":73.5,"lat2":75.5,"h":55,"h2":60,"v":21.0},{"lat":73.5,"lat2":75.5,"h":60,"h2":80,"v":20.6},{"lat":73.5,"lat2":75.5,"h":80,"h2":100,"v":20.4},
{"lat":71.5,"lat2":73.5,"h":40,"h2":41.5,"v":24.7},{"lat":71.5,"lat2":73.5,"h":41.5,"h2":43,"v":24.2},{"lat":71.5,"lat2":73.5,"h":43,"h2":45,"v":23.7},{"lat":71.5,"lat2":73.5,"h":45,"h2":47,"v":23.1},{"lat":71.5,"lat2":73.5,"h":47,"h2":49.5,"v":22.4},{"lat":71.5,"lat2":73.5,"h":49.5,"h2":52,"v":21.8},{"lat":71.5,"lat2":73.5,"h":52,"h2":55,"v":21.4},{"lat":71.5,"lat2":73.5,"h":55,"h2":60,"v":20.9},{"lat":71.5,"lat2":73.5,"h":60,"h2":80,"v":20.6},{"lat":71.5,"lat2":73.5,"h":80,"h2":100,"v":20.4},
{"lat":69.5,"lat2":71.5,"h":40,"h2":41.5,"v":24.2},{"lat":69.5,"lat2":71.5,"h":41.5,"h2":43,"v":23.8},{"lat":69.5,"lat2":71.5,"h":43,"h2":45,"v":23.3},{"lat":69.5,"lat2":71.5,"h":45,"h2":47,"v":22.8},{"lat":69.5,"lat2":71.5,"h":47,"h2":49.5,"v":22.2},{"lat":69.5,"lat2":71.5,"h":49.5,"h2":52,"v":21.6},{"lat":69.5,"lat2":71.5,"h":52,"h2":55,"v":21.3},{"lat":69.5,"lat2":71.5,"h":55,"h2":60,"v":20.9},{"lat":69.5,"lat2":71.5,"h":60,"h2":80,"v":20.6},{"lat":69.5,"lat2":71.5,"h":80,"h2":100,"v":20.4},
{"lat":67.5,"lat2":69.5,"h":40,"h2":41.5,"v":23.4},{"lat":67.5,"lat2":69.5,"h":41.5,"h2":43,"v":23.1},{"lat":67.5,"lat2":69.5,"h":43,"h2":45,"v":22.7},{"lat":67.5,"lat2":69.5,"h":45,"h2":47,"v":22.3},{"lat":67.5,"lat2":69.5,"h":47,"h2":49.5,"v":21.8},{"lat":67.5,"lat2":69.5,"h":49.5,"h2":52,"v":21.4},{"lat":67.5,"lat2":69.5,"h":52,"h2":55,"v":21.1},{"lat":67.5,"lat2":69.5,"h":55,"h2":60,"v":20.8},{"lat":67.5,"lat2":69.5,"h":60,"h2":80,"v":20.6},{"lat":67.5,"lat2":69.5,"h":80,"h2":100,"v":20.4},
{"lat":65.5,"lat2":67.5,"h":40,"h2":41.5,"v":22.4},{"lat":65.5,"lat2":67.5,"h":41.5,"h2":43,"v":22.2},{"lat":65.5,"lat2":67.5,"h":43,"h2":45,"v":21.9},{"lat":65.5,"lat2":67.5,"h":45,"h2":47,"v":21.7},{"lat":65.5,"lat2":67.5,"h":47,"h2":49.5,"v":21.4},{"lat":65.5,"lat2":67.5,"h":49.5,"h2":52,"v":21.1},{"lat":65.5,"lat2":67.5,"h":52,"h2":55,"v":20.9},{"lat":65.5,"lat2":67.5,"h":55,"h2":60,"v":20.7},{"lat":65.5,"lat2":67.5,"h":60,"h2":80,"v":20.5},{"lat":65.5,"lat2":67.5,"h":80,"h2":100,"v":20.4},
{"lat":63.5,"lat2":65.5,"h":40,"h2":41.5,"v":21.4},{"lat":63.5,"lat2":65.5,"h":41.5,"h2":43,"v":21.3},{"lat":63.5,"lat2":65.5,"h":43,"h2":45,"v":21.2},{"lat":63.5,"lat2":65.5,"h":45,"h2":47,"v":21.0},{"lat":63.5,"lat2":65.5,"h":47,"h2":49.5,"v":20.9},{"lat":63.5,"lat2":65.5,"h":49.5,"h2":52,"v":20.8},{"lat":63.5,"lat2":65.5,"h":52,"h2":55,"v":20.7},{"lat":63.5,"lat2":65.5,"h":55,"h2":60,"v":20.6},{"lat":63.5,"lat2":65.5,"h":60,"h2":80,"v":20.5},{"lat":63.5,"lat2":65.5,"h":80,"h2":100,"v":20.4},
{"lat":61.5,"lat2":63.5,"h":40,"h2":41.5,"v":20.9},{"lat":61.5,"lat2":63.5,"h":41.5,"h2":43,"v":20.9},{"lat":61.5,"lat2":63.5,"h":43,"h2":45,"v":20.8},{"lat":61.5,"lat2":63.5,"h":45,"h2":47,"v":20.7},{"lat":61.5,"lat2":63.5,"h":47,"h2":49.5,"v":20.7},{"lat":61.5,"lat2":63.5,"h":49.5,"h2":52,"v":20.6},{"lat":61.5,"lat2":63.5,"h":52,"h2":55,"v":20.6},{"lat":61.5,"lat2":63.5,"h":55,"h2":60,"v":20.5},{"lat":61.5,"lat2":63.5,"h":60,"h2":80,"v":20.5},{"lat":61.5,"lat2":63.5,"h":80,"h2":100,"v":20.4},
{"lat":37.5,"lat2":61.5,"h":40,"h2":60,"v":20.5},{"lat":37.5,"lat2":61.5,"h":60,"h2":100,"v":20.4}
],
"hatch":[
{"h":40,"lat":61.9},{"h":46,"lat":60.7},{"h":52,"lat":59.7},{"h":58,"lat":58.4},{"h":64,"lat":57.1},{"h":70,"lat":56.1},{"h":76,"lat":55},{"h":82,"lat":54},{"h":88,"lat":52.9},{"h":94,"lat":52.1},{"h":100,"lat":51.2}
],
"bar":[{"lo":20,"hi":30}]
},
"hconcat":[
{"hconcat":[
{"width":248,"height":154,
"data":{"name":"west"},
"mark":{"type":"rect","strokeWidth":0.6},
"encoding":{
"x":{"field":"lat","type":"quantitative","scale":{"domain":[37.5,81.5],"nice":false,"zero":false},
 "axis":{"values":[37.5,40,50,60,70,80,81.5],"labelExpr":"datum.value==37.5||datum.value==81.5?'':datum.label","tickOpacity":{"condition":{"test":"datum.value==37.5||datum.value==81.5","value":0},"value":1},"grid":true,"gridColor":{"condition":{"test":"datum.value==37.5||datum.value==81.5","value":"black"},"value":"#b0b0b0"},"title":["Latitude (deg.)","West"],"titleLineHeight":16,"labelPadding":7,"titlePadding":3,"zindex":1}},
"x2":{"field":"lat2"},
"y":{"field":"h","type":"quantitative","scale":{"domain":[40,100],"nice":false,"zero":false},
 "axis":{"values":[40,60,80,100],"grid":true,"gridColor":{"condition":{"test":"datum.value==40||datum.value==100","value":"black"},"value":"#b0b0b0"},"title":"Height (km)","labelPadding":6,"titlePadding":8,"zindex":1}},
"y2":{"field":"h2"},
"fill":{"field":"v","type":"quantitative","legend":null,"scale":{"domain":[20,21.25,22.5,23.75,25,26.25,27.5,28.75,30],"range":["#fff5f0","#fee0d2","#fcbba1","#fc9272","#fb6a4a","#ef3b2c","#cb181d","#a50f15","#67000d"],"interpolate":"rgb","clamp":true}},
"stroke":{"field":"v","type":"quantitative","legend":null,"scale":{"domain":[20,21.25,22.5,23.75,25,26.25,27.5,28.75,30],"range":["#fff5f0","#fee0d2","#fcbba1","#fc9272","#fb6a4a","#ef3b2c","#cb181d","#a50f15","#67000d"],"interpolate":"rgb","clamp":true}}
}},
{"width":248,"height":154,
"layer":[
{"data":{"name":"east"},
"mark":{"type":"rect","strokeWidth":0.6},
"encoding":{
"x":{"field":"lat","type":"quantitative","scale":{"domain":[37.5,81.5],"reverse":true,"nice":false,"zero":false},
 "axis":{"values":[81.5,80,70,60,50,40,37.5],"labelExpr":"datum.value==37.5||datum.value==81.5?'':datum.label","tickOpacity":{"condition":{"test":"datum.value==37.5||datum.value==81.5","value":0},"value":1},"grid":true,"gridColor":{"condition":{"test":"datum.value==37.5||datum.value==81.5","value":"black"},"value":"#b0b0b0"},"title":["Latitude (deg.)","East"],"titleLineHeight":16,"labelPadding":7,"titlePadding":3,"zindex":1}},
"x2":{"field":"lat2"},
"y":{"field":"h","type":"quantitative","scale":{"domain":[40,100],"nice":false,"zero":false},
 "axis":{"values":[40,60,80,100],"grid":true,"gridColor":{"condition":{"test":"datum.value==40||datum.value==100","value":"black"},"value":"#b0b0b0"},"labels":false,"ticks":false,"domain":false,"title":null,"zindex":1}},
"y2":{"field":"h2"},
"fill":{"field":"v","type":"quantitative","legend":null,"scale":{"domain":[20,21.25,22.5,23.75,25,26.25,27.5,28.75,30],"range":["#fff5f0","#fee0d2","#fcbba1","#fc9272","#fb6a4a","#ef3b2c","#cb181d","#a50f15","#67000d"],"interpolate":"rgb","clamp":true}},
"stroke":{"field":"v","type":"quantitative","legend":null,"scale":{"domain":[20,21.25,22.5,23.75,25,26.25,27.5,28.75,30],"range":["#fff5f0","#fee0d2","#fcbba1","#fc9272","#fb6a4a","#ef3b2c","#cb181d","#a50f15","#67000d"],"interpolate":"rgb","clamp":true}}
}},
{"data":{"name":"hatch"},
"mark":{"type":"area","orient":"horizontal","color":{"gradient":"linear","x1":0,"y1":0,"x2":0.943,"y2":1.06,"stops":[
{"offset":0,"color":"#000000"},{"offset":0.0055,"color":"#000000"},{"offset":0.0055,"color":"rgba(0,0,0,0)"},{"offset":0.0285,"color":"rgba(0,0,0,0)"},
{"offset":0.0285,"color":"#000000"},{"offset":0.034,"color":"#000000"},{"offset":0.034,"color":"rgba(0,0,0,0)"},{"offset":0.057,"color":"rgba(0,0,0,0)"},
{"offset":0.057,"color":"#000000"},{"offset":0.0625,"color":"#000000"},{"offset":0.0625,"color":"rgba(0,0,0,0)"},{"offset":0.0855,"color":"rgba(0,0,0,0)"},
{"offset":0.0855,"color":"#000000"},{"offset":0.091,"color":"#000000"},{"offset":0.091,"color":"rgba(0,0,0,0)"},{"offset":0.114,"color":"rgba(0,0,0,0)"},
{"offset":0.114,"color":"#000000"},{"offset":0.1195,"color":"#000000"},{"offset":0.1195,"color":"rgba(0,0,0,0)"},{"offset":0.1425,"color":"rgba(0,0,0,0)"},
{"offset":0.1425,"color":"#000000"},{"offset":0.148,"color":"#000000"},{"offset":0.148,"color":"rgba(0,0,0,0)"},{"offset":0.171,"color":"rgba(0,0,0,0)"},
{"offset":0.171,"color":"#000000"},{"offset":0.1765,"color":"#000000"},{"offset":0.1765,"color":"rgba(0,0,0,0)"},{"offset":0.1995,"color":"rgba(0,0,0,0)"},
{"offset":0.1995,"color":"#000000"},{"offset":0.205,"color":"#000000"},{"offset":0.205,"color":"rgba(0,0,0,0)"},{"offset":0.228,"color":"rgba(0,0,0,0)"},
{"offset":0.228,"color":"#000000"},{"offset":0.2335,"color":"#000000"},{"offset":0.2335,"color":"rgba(0,0,0,0)"},{"offset":0.2565,"color":"rgba(0,0,0,0)"},
{"offset":0.2565,"color":"#000000"},{"offset":0.262,"color":"#000000"},{"offset":0.262,"color":"rgba(0,0,0,0)"},{"offset":0.285,"color":"rgba(0,0,0,0)"},
{"offset":0.285,"color":"#000000"},{"offset":0.2905,"color":"#000000"},{"offset":0.2905,"color":"rgba(0,0,0,0)"},{"offset":0.3135,"color":"rgba(0,0,0,0)"},
{"offset":0.3135,"color":"#000000"},{"offset":0.319,"color":"#000000"},{"offset":0.319,"color":"rgba(0,0,0,0)"},{"offset":0.342,"color":"rgba(0,0,0,0)"},
{"offset":0.342,"color":"#000000"},{"offset":0.3475,"color":"#000000"},{"offset":0.3475,"color":"rgba(0,0,0,0)"},{"offset":0.3705,"color":"rgba(0,0,0,0)"},
{"offset":0.3705,"color":"#000000"},{"offset":0.376,"color":"#000000"},{"offset":0.376,"color":"rgba(0,0,0,0)"},{"offset":0.399,"color":"rgba(0,0,0,0)"},
{"offset":0.399,"color":"#000000"},{"offset":0.4045,"color":"#000000"},{"offset":0.4045,"color":"rgba(0,0,0,0)"},{"offset":0.4275,"color":"rgba(0,0,0,0)"},
{"offset":0.4275,"color":"#000000"},{"offset":0.433,"color":"#000000"},{"offset":0.433,"color":"rgba(0,0,0,0)"},{"offset":0.456,"color":"rgba(0,0,0,0)"},
{"offset":0.456,"color":"#000000"},{"offset":0.4615,"color":"#000000"},{"offset":0.4615,"color":"rgba(0,0,0,0)"},{"offset":0.4845,"color":"rgba(0,0,0,0)"},
{"offset":0.4845,"color":"#000000"},{"offset":0.49,"color":"#000000"},{"offset":0.49,"color":"rgba(0,0,0,0)"},{"offset":0.513,"color":"rgba(0,0,0,0)"},
{"offset":0.513,"color":"#000000"},{"offset":0.5185,"color":"#000000"},{"offset":0.5185,"color":"rgba(0,0,0,0)"},{"offset":0.5415,"color":"rgba(0,0,0,0)"},
{"offset":0.5415,"color":"#000000"},{"offset":0.547,"color":"#000000"},{"offset":0.547,"color":"rgba(0,0,0,0)"},{"offset":0.57,"color":"rgba(0,0,0,0)"},
{"offset":0.57,"color":"#000000"},{"offset":0.5755,"color":"#000000"},{"offset":0.5755,"color":"rgba(0,0,0,0)"},{"offset":0.5985,"color":"rgba(0,0,0,0)"},
{"offset":0.5985,"color":"#000000"},{"offset":0.604,"color":"#000000"},{"offset":0.604,"color":"rgba(0,0,0,0)"},{"offset":0.627,"color":"rgba(0,0,0,0)"},
{"offset":0.627,"color":"#000000"},{"offset":0.6325,"color":"#000000"},{"offset":0.6325,"color":"rgba(0,0,0,0)"},{"offset":0.6555,"color":"rgba(0,0,0,0)"},
{"offset":0.6555,"color":"#000000"},{"offset":0.661,"color":"#000000"},{"offset":0.661,"color":"rgba(0,0,0,0)"},{"offset":0.684,"color":"rgba(0,0,0,0)"},
{"offset":0.684,"color":"#000000"},{"offset":0.6895,"color":"#000000"},{"offset":0.6895,"color":"rgba(0,0,0,0)"},{"offset":0.7125,"color":"rgba(0,0,0,0)"},
{"offset":0.7125,"color":"#000000"},{"offset":0.718,"color":"#000000"},{"offset":0.718,"color":"rgba(0,0,0,0)"},{"offset":0.741,"color":"rgba(0,0,0,0)"},
{"offset":0.741,"color":"#000000"},{"offset":0.7465,"color":"#000000"},{"offset":0.7465,"color":"rgba(0,0,0,0)"},{"offset":0.7695,"color":"rgba(0,0,0,0)"},
{"offset":0.7695,"color":"#000000"},{"offset":0.775,"color":"#000000"},{"offset":0.775,"color":"rgba(0,0,0,0)"},{"offset":0.798,"color":"rgba(0,0,0,0)"},
{"offset":0.798,"color":"#000000"},{"offset":0.8035,"color":"#000000"},{"offset":0.8035,"color":"rgba(0,0,0,0)"},{"offset":0.8265,"color":"rgba(0,0,0,0)"},
{"offset":0.8265,"color":"#000000"},{"offset":0.832,"color":"#000000"},{"offset":0.832,"color":"rgba(0,0,0,0)"},{"offset":0.855,"color":"rgba(0,0,0,0)"},
{"offset":0.855,"color":"#000000"},{"offset":0.8605,"color":"#000000"},{"offset":0.8605,"color":"rgba(0,0,0,0)"},{"offset":0.8835,"color":"rgba(0,0,0,0)"},
{"offset":0.8835,"color":"#000000"},{"offset":0.889,"color":"#000000"},{"offset":0.889,"color":"rgba(0,0,0,0)"},{"offset":0.912,"color":"rgba(0,0,0,0)"},
{"offset":0.912,"color":"#000000"},{"offset":0.9175,"color":"#000000"},{"offset":0.9175,"color":"rgba(0,0,0,0)"},{"offset":0.9405,"color":"rgba(0,0,0,0)"},
{"offset":0.9405,"color":"#000000"},{"offset":0.946,"color":"#000000"},{"offset":0.946,"color":"rgba(0,0,0,0)"},{"offset":0.969,"color":"rgba(0,0,0,0)"},
{"offset":0.969,"color":"#000000"},{"offset":0.9745,"color":"#000000"},{"offset":0.9745,"color":"rgba(0,0,0,0)"},{"offset":0.9975,"color":"rgba(0,0,0,0)"},
{"offset":0.9975,"color":"#000000"},{"offset":1,"color":"#000000"}
]}},
"encoding":{
"y":{"field":"h","type":"quantitative"},
"x":{"field":"lat","type":"quantitative"},
"x2":{"datum":37.5}
}}
]}
],"spacing":0,"bounds":"flush"},
{"width":10,"height":154,
"data":{"name":"bar"},
"mark":{"type":"rect","stroke":"black","strokeWidth":1,"color":{"gradient":"linear","x1":0,"y1":1,"x2":0,"y2":0,"stops":[{"offset":0,"color":"#fff5f0"},{"offset":0.125,"color":"#fee0d2"},{"offset":0.25,"color":"#fcbba1"},{"offset":0.375,"color":"#fc9272"},{"offset":0.5,"color":"#fb6a4a"},{"offset":0.625,"color":"#ef3b2c"},{"offset":0.75,"color":"#cb181d"},{"offset":0.875,"color":"#a50f15"},{"offset":1,"color":"#67000d"}]}},
"encoding":{
"y":{"field":"lo","type":"quantitative","scale":{"domain":[20,30],"nice":false,"zero":false},
 "axis":{"orient":"right","values":[20,22,24,26,28,30],"grid":false,"domain":false,"labelFontSize":13.9,"title":"(counts)","titleAngle":270,"titleBaseline":"top","titlePadding":6}},
"y2":{"field":"hi"}
}}
],
"spacing":13,
"config":{
"font":"DejaVu Sans",
"view":{"stroke":null},
"axis":{"labelFont":"DejaVu Sans","labelFontSize":12.5,"labelColor":"black","titleFont":"DejaVu Sans","titleFontSize":13.9,"titleFontWeight":"normal","titleColor":"black","tickColor":"black","tickSize":5,"tickWidth":1,"domainColor":"black","domainWidth":1,"gridColor":"#b0b0b0","gridWidth":1,"gridOpacity":1,"labelPadding":4,"labelFlush":false,"labelOverlap":false}
}
}
